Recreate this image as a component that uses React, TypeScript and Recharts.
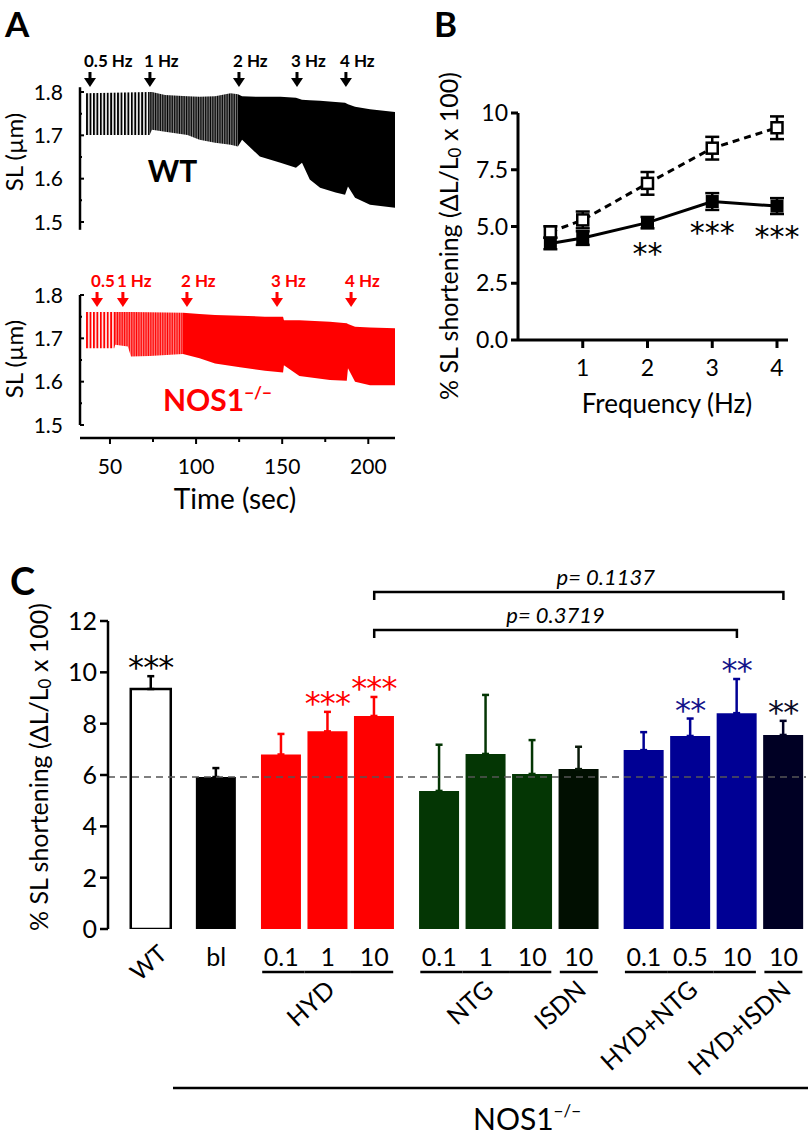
import React from "react";
import {
  ComposedChart, Area, XAxis, YAxis, ReferenceDot, ReferenceLine,
  LineChart, Line, ErrorBar, LabelList, BarChart, Bar, Cell,
} from "recharts";

const FONT = "Lato, 'Open Sans', sans-serif";
const STAR_FONT = "'DejaVu Sans', sans-serif";
const INK = "#000";
const RED = "#ff0000";

/* ---------- A: sarcomere length traces (envelope of twitches) ---------- */
const wtTime = [36, 73, 74.4, 82, 95, 102, 111, 120, 124.3, 126.7, 137, 149, 158, 161.5, 166, 172, 181, 186.5, 188.2, 192.3, 201, 215.5];
const wtTop = [1.797, 1.8, 1.8, 1.793, 1.79, 1.789, 1.79, 1.797, 1.795, 1.79, 1.789, 1.789, 1.787, 1.782, 1.781, 1.78, 1.777, 1.775, 1.772, 1.766, 1.76, 1.754];
const wtBottom = [1.701, 1.701, 1.713, 1.708, 1.701, 1.69, 1.683, 1.678, 1.674, 1.69, 1.651, 1.637, 1.625, 1.637, 1.598, 1.579, 1.568, 1.563, 1.582, 1.556, 1.54, 1.533];
const wtPacingSwitch = [73, 124.3]; // end of 0.5 Hz, end of 1 Hz
const wtArrowTimes = [38.4, 73.2, 124.9, 158.6, 187];
const wtArrowLabels = ["0.5 Hz", "1 Hz", "2 Hz", "3 Hz", "4 Hz"];

const koTime = [36, 52.5, 53, 60.4, 62.2, 73, 92.4, 102, 111, 125.5, 140, 150.5, 151, 160, 177.7, 187.5, 188.2, 192.3, 201, 215.5];
const koTop = [1.761, 1.761, 1.761, 1.761, 1.761, 1.76, 1.759, 1.756, 1.754, 1.752, 1.75, 1.75, 1.742, 1.742, 1.738, 1.735, 1.733, 1.727, 1.725, 1.723];
const koBottom = [1.677, 1.677, 1.685, 1.681, 1.658, 1.659, 1.664, 1.654, 1.642, 1.633, 1.625, 1.621, 1.638, 1.613, 1.604, 1.602, 1.631, 1.6, 1.592, 1.592];
const koPacingSwitch = [53, 92.4];
const koArrowTimes = [42.5, 57.5, 94.7, 147, 190];
const koArrowLabels = ["0.5", "1 Hz", "2 Hz", "3 Hz", "4 Hz"];

const timeTicks = [50, 75, 100, 125, 150, 175, 200];
const slTicks = [1.5, 1.55, 1.6, 1.65, 1.7, 1.75, 1.8];

/* ---------- B: frequency dependence ---------- */
const freqHz = [0.5, 1, 2, 3, 4];
const wtShortening = [4.76, 5.29, 6.9, 8.45, 9.35];
const wtShorteningSem = [0.25, 0.37, 0.5, 0.5, 0.5];
const koShortening = [4.25, 4.49, 5.17, 6.1, 5.9];
const koShorteningSem = [0.25, 0.3, 0.25, 0.37, 0.35];
const koVsWtStars = ["", "", "**", "***", "***"];
const shorteningTicks = [0, 2.5, 5, 7.5, 10];

/* ---------- C: NO donors / hydralazine ---------- */
const barTicks = ["WT", "bl", "0.1", "1", "10", "0.1", "1", "10", "10", "0.1", "0.5", "10", "10"];
const barGroup = ["WT", "bl", "HYD", "HYD", "HYD", "NTG", "NTG", "NTG", "ISDN", "HYD+NTG", "HYD+NTG", "HYD+NTG", "HYD+ISDN"];
const barCluster = [0, 1, 2, 2, 2, 3, 3, 3, 3, 4, 4, 4, 4];
const barMean = [9.35, 5.92, 6.8, 7.7, 8.3, 5.38, 6.82, 6.04, 6.23, 6.97, 7.52, 8.41, 7.56];
const barSem = [0.5, 0.35, 0.8, 0.76, 0.74, 1.8, 2.3, 1.32, 0.87, 0.7, 0.68, 1.33, 0.55];
const barStars = ["***", "", "", "***", "***", "", "", "", "", "", "**", "**", "**"];
const compareFrom = [4, 4];
const compareTo = [12, 11];
const compareP = ["p= 0.1137", "p= 0.3719"];
const barTicksY = [0, 2, 4, 6, 8, 10, 12];

/* ---------- layout ---------- */
const T_MIN = 32.6;
const T_MAX = 215.5;
const A_PLOT_W = 315;

const C_X_MIN = -0.925;
const C_X_MAX = 14.086;
const C_PLOT_W = 698;
const SLOT_PX = C_PLOT_W / (C_X_MAX - C_X_MIN);
const CLUSTER_GAP = 0.4;
const BRACKET_LEVELS = [13.13, 11.65];
const BRACKET_TEXT_SHIFT = [27, 0];

const groupFill: Record<string, string> = {
  WT: "#ffffff", bl: "#000000", HYD: RED, NTG: "#043604", ISDN: "#010f01",
  "HYD+NTG": "#000094", "HYD+ISDN": "#000024",
};
const groupInk: Record<string, string> = {
  WT: INK, bl: INK, HYD: RED, NTG: "#043604", ISDN: "#0a1a0a",
  "HYD+NTG": "#000094", "HYD+ISDN": "#000024",
};
const starInk: Record<string, string> = {
  WT: INK, bl: INK, HYD: RED, "HYD+NTG": "#14148a", "HYD+ISDN": "#0a0a26",
};

function TimeTick({ x, y, payload }: any) {
  const major = payload.value % 50 === 0;
  return (
    <g>
      <line x1={x} x2={x} y1={y} y2={y + (major ? 6 : 4)} stroke={INK} strokeWidth={2} />
      {major && (
        <text x={x} y={y + 36} textAnchor="middle" fontSize={21} fill={INK}>{payload.value}</text>
      )}
    </g>
  );
}

function SlTick({ x, y, payload }: any) {
  const major = Math.round(payload.value * 100) % 10 === 0;
  return (
    <g>
      <line x1={x} x2={x + (major ? 4 : 2)} y1={y} y2={y} stroke={INK} strokeWidth={2} />
      {major && (
        <text x={x - 17} y={y + 7.5} textAnchor="end" fontSize={21} fill={INK}>{payload.value.toFixed(1)}</text>
      )}
    </g>
  );
}

function pacingArrow(label: string, color: string, tipDy: number) {
  return (p: any) => {
    const tip = p.cy + tipDy;
    return (
      <g>
        <rect x={p.cx - 1.5} y={tip - 15} width={3} height={7} fill={color} />
        <path d={`M${p.cx - 6},${tip - 9} L${p.cx + 6},${tip - 9} L${p.cx},${tip} Z`} fill={color} />
        <text x={p.cx - 6} y={tip - 20} fontSize={17} fontWeight={700} fill={color}>{label}</text>
      </g>
    );
  };
}

function TraceChart(props: any) {
  const {
    id, top, height, margin, time, upper, lower, switches, arrowTimes, arrowLabels,
    color, yMin, axisFrom, axisTo, tipDy, showTime, tag, tagT, tagSl,
  } = props;
  const rows = time.map((t: number, i: number) => ({ t, sl: [lower[i], upper[i]] }));
  const slow = rows.filter((r: any) => r.t <= switches[0]);
  const mid = rows.filter((r: any) => r.t >= switches[0] && r.t <= switches[1]);
  const fast = rows.filter((r: any) => r.t >= switches[1]);
  const pxPerSec = A_PLOT_W / (T_MAX - T_MIN);
  return (
    <div style={{ position: "absolute", left: 0, top }}>
      <ComposedChart width={400} height={height} margin={margin}>
        <defs>
          <pattern id={`${id}-slow`} patternUnits="userSpaceOnUse" width={2 * pxPerSec} height={8}>
            <rect x={0} y={0} width={2 * pxPerSec * 0.55} height={8} fill={color} />
          </pattern>
          <pattern id={`${id}-mid`} patternUnits="userSpaceOnUse" width={pxPerSec} height={8}>
            <rect x={0} y={0} width={pxPerSec * 0.75} height={8} fill={color} />
          </pattern>
        </defs>
        <XAxis
          type="number" dataKey="t" domain={[T_MIN, T_MAX]} allowDataOverflow
          hide={!showTime} ticks={timeTicks} interval={0} height={80}
          tickSize={0} tickMargin={0} tickLine={false} tick={<TimeTick />}
          axisLine={{ stroke: INK, strokeWidth: 2.5 }}
        />
        <YAxis
          type="number" domain={[yMin, 1.8]} allowDataOverflow ticks={slTicks} interval={0}
          width={80} tickSize={0} tickMargin={0} tickLine={false} axisLine={false} tick={<SlTick />}
        />
        <ReferenceLine
          segment={[{ x: T_MIN, y: axisFrom }, { x: T_MIN, y: axisTo }]}
          stroke={INK} strokeWidth={2.5} ifOverflow="visible"
        />
        <Area data={slow} dataKey="sl" type="linear" stroke="none" fill={`url(#${id}-slow)`} fillOpacity={1} isAnimationActive={false} activeDot={false} />
        <Area data={mid} dataKey="sl" type="linear" stroke="none" fill={`url(#${id}-mid)`} fillOpacity={1} isAnimationActive={false} activeDot={false} />
        <Area data={fast} dataKey="sl" type="linear" stroke="none" fill={color} fillOpacity={1} isAnimationActive={false} activeDot={false} />
        {arrowTimes.map((t: number, i: number) => (
          <ReferenceDot key={i} x={t} y={1.8} r={0} ifOverflow="visible" shape={pacingArrow(arrowLabels[i], color, tipDy)} />
        ))}
        <ReferenceDot
          x={tagT} y={tagSl} r={0} ifOverflow="visible"
          shape={(p: any) => (
            <text x={p.cx} y={p.cy + 11} fontSize={30} fontWeight={700} fill={color}>{tag}</text>
          )}
        />
      </ComposedChart>
    </div>
  );
}

function SquareDot(filled: boolean) {
  return (p: any) => {
    const s = filled ? 13 : 11;
    return (
      <rect
        key={`sq-${filled ? "f" : "o"}-${p.index}`}
        x={p.cx - s / 2} y={p.cy - s / 2} width={s} height={s}
        fill={filled ? INK : "#fff"} stroke={INK} strokeWidth={filled ? 0 : 2.5}
      />
    );
  };
}

function FreqStars(props: any) {
  const vb = props.viewBox || props;
  const row = props.value;
  if (!row || !row.stars) return null;
  return (
    <text x={vb.x} y={vb.y + 41} textAnchor="middle" fontSize={30} fontFamily={STAR_FONT} fill={INK}>{row.stars}</text>
  );
}

const barPos = barMean.map((_, i) => i + barCluster[i] * CLUSTER_GAP);
const groupOrder = Array.from(new Set(barGroup));

function BarStars(props: any) {
  const vb = props.viewBox || props;
  const row = props.value;
  if (!row || !row.stars) return null;
  const i = barPos.findIndex((p) => Math.abs(p - row.pos) < 1e-6);
  const errTop = vb.y - barSem[i] * (vb.height / barMean[i]);
  return (
    <text
      x={vb.x + vb.width / 2} y={errTop + 2} textAnchor="middle" fontSize={32} letterSpacing={-0.8}
      fontFamily={STAR_FONT} fill={starInk[barGroup[i]]}
    >
      {row.stars}
    </text>
  );
}

function TreatmentTick({ x, y, payload }: any) {
  const i = barPos.findIndex((p) => Math.abs(p - payload.value) < 1e-6);
  if (i < 0) return null;
  const g = barGroup[i];
  if (g === "WT") {
    return (
      <text x={x + 3} y={y + 40} transform={`rotate(-42 ${x + 3} ${y + 40})`} textAnchor="middle" fontSize={24} fill={INK}>
        {barTicks[i]}
      </text>
    );
  }
  const num = (
    <text x={x} y={y + 37} textAnchor="middle" fontSize={25} fill={INK}>{barTicks[i]}</text>
  );
  if (g === "bl") return num;
  const first = barGroup[i - 1] !== g;
  const last = barGroup[i + 1] !== g;
  const count = barGroup.filter((v) => v === g).length;
  const x1 = first ? x - 19 : x - SLOT_PX / 2;
  const x2 = last ? x + 19 : x + SLOT_PX / 2;
  const gx = x + ((count - 1) * SLOT_PX) / 2 + 9;
  const gy = y + 63;
  return (
    <g>
      {num}
      <line x1={x1} x2={x2} y1={y + 43} y2={y + 43} stroke={INK} strokeWidth={2.5} />
      {first && (
        <text x={gx} y={gy} transform={`rotate(-42 ${gx} ${gy})`} textAnchor="end" fontSize={25} fill={INK}>{g}</text>
      )}
    </g>
  );
}

function Bracket(p: any) {
  const drop = 8;
  return (
    <g>
      <path
        d={`M${p.x1},${p.y1 + drop} L${p.x1},${p.y1} L${p.x2},${p.y2} L${p.x2},${p.y2 + drop}`}
        fill="none" stroke={INK} strokeWidth={2.5}
      />
      <text x={(p.x1 + p.x2) / 2 + p.shift} y={p.y1 - 7} textAnchor="middle" fontStyle="italic" fontSize={22} fill={INK}>
        {p.text}
      </text>
    </g>
  );
}

function ShorteningTitle({ cx, cy }: { cx: number; cy: number }) {
  return (
    <text x={cx} y={cy} transform={`rotate(-90 ${cx} ${cy})`} textAnchor="middle" dominantBaseline="central" fontSize={25} fill={INK}>
      % SL shortening (ΔL/L<tspan fontSize={17} dy={6}>0</tspan>
      <tspan dy={-6}> x 100)</tspan>
    </text>
  );
}

export default function App() {
  const freqRows = freqHz.map((f, i) => ({
    f, wt: wtShortening[i], wtErr: wtShorteningSem[i],
    ko: koShortening[i], koErr: koShorteningSem[i], stars: koVsWtStars[i],
  }));

  const barRows = barMean.map((m, i) => {
    const row: any = { pos: barPos[i], mean: m, stars: barStars[i] };
    row[`e${groupOrder.indexOf(barGroup[i])}`] = [0, barSem[i]];
    return row;
  });

  const axis = { stroke: INK, strokeWidth: 3 };
  const koTag = (
    <>
      NOS1<tspan fontSize={17} dy={-12}>−/−</tspan>
    </>
  );

  return (
    <div style={{ position: "absolute", left: 0, top: 0, width: 812, height: 1137, background: "#fff", fontFamily: FONT, color: INK }}>
      {/* A, WT trace */}
      <TraceChart
        id="wt" top={0} height={240} margin={{ top: 92, right: 5, bottom: 18, left: 0 }}
        time={wtTime} upper={wtTop} lower={wtBottom} switches={wtPacingSwitch}
        arrowTimes={wtArrowTimes} arrowLabels={wtArrowLabels} color={INK}
        yMin={1.5} axisFrom={1.482} axisTo={1.811} tipDy={-5} showTime={false}
        tag="WT" tagT={72} tagSl={1.618}
      />
      {/* A, NOS1-/- trace */}
      <TraceChart
        id="ko" top={250} height={270} margin={{ top: 45, right: 5, bottom: 2, left: 0 }}
        time={koTime} upper={koTop} lower={koBottom} switches={koPacingSwitch}
        arrowTimes={koArrowTimes} arrowLabels={koArrowLabels} color={RED}
        yMin={1.47} axisFrom={1.5} axisTo={1.8} tipDy={12} showTime
        tag={koTag} tagT={80.8} tagSl={1.557}
      />

      {/* B */}
      <div style={{ position: "absolute", left: 400, top: 0 }}>
        <LineChart width={412} height={430} data={freqRows} margin={{ top: 113, right: 24, bottom: 2, left: 0 }}>
          <XAxis
            type="number" dataKey="f" domain={[0, 4.17]} allowDataOverflow ticks={[1, 2, 3, 4]} interval={0}
            height={88} tickSize={8} tickMargin={12} tick={{ fontSize: 23, fill: INK }}
            axisLine={axis} tickLine={axis}
          />
          <YAxis
            type="number" domain={[0, 10]} allowDataOverflow ticks={shorteningTicks} interval={0}
            width={118} tickSize={7} tickMargin={3} tick={{ fontSize: 23, fill: INK }}
            tickFormatter={(v: number) => (v === 10 ? "10" : v.toFixed(1))}
            axisLine={axis} tickLine={axis}
          />
          <Line dataKey="ko" type="linear" stroke={INK} strokeWidth={3} dot={SquareDot(true)} activeDot={false} isAnimationActive={false}>
            <ErrorBar dataKey="koErr" width={7} stroke={INK} strokeWidth={2.5} direction="y" />
            <LabelList dataKey={(r: any) => r} content={FreqStars} />
          </Line>
          <Line dataKey="wt" type="linear" stroke={INK} strokeWidth={3} strokeDasharray="7 5" dot={SquareDot(false)} activeDot={false} isAnimationActive={false}>
            <ErrorBar dataKey="wtErr" width={7} stroke={INK} strokeWidth={2.5} direction="y" />
          </Line>
        </LineChart>
      </div>

      {/* C */}
      <div style={{ position: "absolute", left: 0, top: 540 }}>
        <BarChart width={812} height={597} data={barRows} margin={{ top: 81, right: 6, bottom: 0, left: 0 }}>
          <XAxis
            type="number" dataKey="pos" domain={[C_X_MIN, C_X_MAX]} allowDataOverflow ticks={barPos} interval={0}
            height={208} tickSize={0} tickMargin={0} tickLine={false} axisLine={false} tick={<TreatmentTick />}
          />
          <YAxis
            type="number" domain={[0, 12]} allowDataOverflow ticks={barTicksY} interval={0}
            width={108} tickSize={8} tickMargin={3} tick={{ fontSize: 25, fill: INK }}
            axisLine={{ stroke: INK, strokeWidth: 2.5 }} tickLine={{ stroke: INK, strokeWidth: 2.5 }}
          />
          <Bar dataKey="mean" barSize={40} isAnimationActive={false}>
            {barRows.map((_, i) => (
              <Cell key={i} fill={groupFill[barGroup[i]]} stroke={barGroup[i] === "WT" ? INK : "none"} strokeWidth={2.5} />
            ))}
            {groupOrder.map((g, k) => (
              <ErrorBar key={g} dataKey={`e${k}`} width={3.5} stroke={groupInk[g]} strokeWidth={2.5} direction="y" />
            ))}
            <LabelList dataKey={(r: any) => r} content={BarStars} />
          </Bar>
          <ReferenceLine y={barMean[1]} stroke="#555" strokeWidth={1.5} strokeDasharray="7 5" />
          {compareFrom.map((from, k) => (
            <ReferenceLine
              key={k}
              segment={[{ x: barPos[from], y: BRACKET_LEVELS[k] }, { x: barPos[compareTo[k]], y: BRACKET_LEVELS[k] }]}
              ifOverflow="visible"
              shape={(p: any) => <Bracket {...p} text={compareP[k]} shift={BRACKET_TEXT_SHIFT[k]} />}
            />
          ))}
        </BarChart>
      </div>

      {/* titles and panel letters */}
      <svg width={812} height={1137} style={{ position: "absolute", left: 0, top: 0, pointerEvents: "none" }}>
        <text x={5} y={37} fontSize={35} fontWeight={700} fill={INK}>A</text>
        <text x={434} y={37} fontSize={35} fontWeight={700} fill={INK}>B</text>
        <text x={10} y={595} fontSize={38} fontWeight={700} fill={INK}>C</text>

        <text x={13} y={152} transform="rotate(-90 13 152)" textAnchor="middle" dominantBaseline="central" fontSize={24} fill={INK}>SL (µm)</text>
        <text x={13} y={359} transform="rotate(-90 13 359)" textAnchor="middle" dominantBaseline="central" fontSize={24} fill={INK}>SL (µm)</text>
        <text x={235} y={498} textAnchor="middle" dominantBaseline="central" fontSize={28} fill={INK}>Time (sec)</text>

        <ShorteningTitle cx={448} cy={236} />
        <text x={667} y={403} textAnchor="middle" dominantBaseline="central" fontSize={26} fill={INK}>Frequency (Hz)</text>

        <ShorteningTitle cx={38} cy={767} />
        <line x1={173} x2={808} y1={1088} y2={1088} stroke={INK} strokeWidth={2.5} />
        <text x={473} y={1130} fontSize={30} fill={INK}>
          NOS1<tspan fontSize={17} dy={-13}>−/−</tspan>
        </text>
      </svg>
    </div>
  );
}
